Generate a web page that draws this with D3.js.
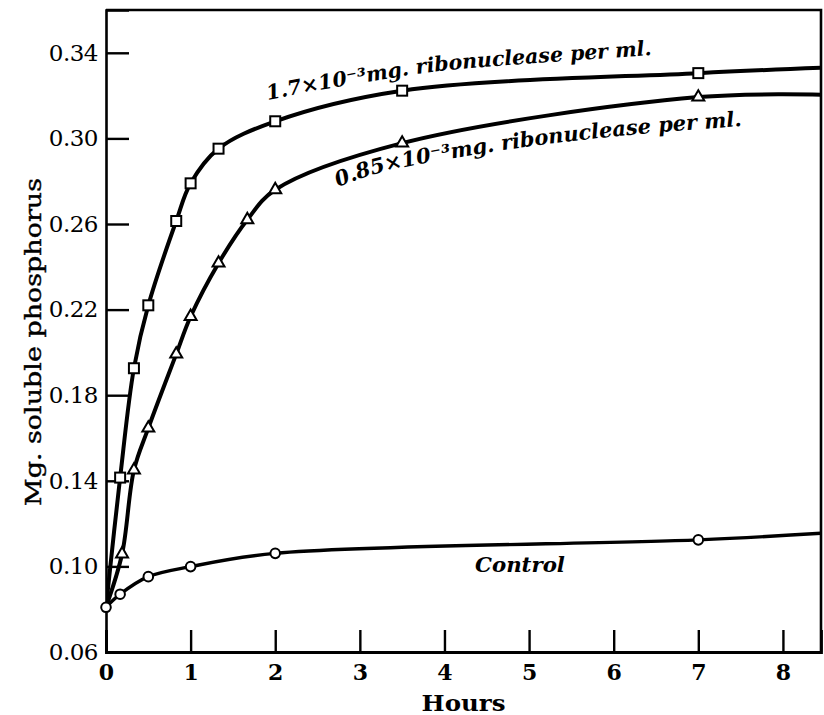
<!DOCTYPE html>
<html>
<head>
<meta charset="utf-8">
<script src="https://cdn.jsdelivr.net/npm/d3@7"></script>
<style>
  html, body { margin: 0; padding: 0; background: #fff; }
  svg { display: block; }
</style>
</head>
<body>
<svg id="chart" width="824" height="715"></svg>
<script>
// ---------- data ----------
const xTickLabels = [0, 1, 2, 3, 4, 5, 6, 7, 8];
const yTickLabels = [0.06, 0.10, 0.14, 0.18, 0.22, 0.26, 0.30, 0.34];

// 1.7e-3 mg ribonuclease per ml  (squares)
const hoursHigh  = [0, 0.167, 0.33, 0.5, 0.83, 1.0, 1.33, 2.0, 3.5, 7.0];
const valuesHigh = [0.081, 0.1415, 0.1926, 0.222, 0.2614, 0.279, 0.2952, 0.308, 0.3223, 0.3305];
const markedHigh = [false, true, true, true, true, true, true, true, true, true];
const endHigh = 0.333;   // curve value where it leaves the frame

// 0.85e-3 mg ribonuclease per ml (triangles)
const hoursLow  = [0, 0.19, 0.33, 0.5, 0.83, 1.0, 1.33, 1.67, 2.0, 3.5, 7.0];
const valuesLow = [0.081, 0.1058, 0.145, 0.1646, 0.1992, 0.2168, 0.2417, 0.262, 0.276, 0.2978, 0.3193];
const markedLow = [false, true, true, true, true, true, true, true, true, true, true];
const endLow = 0.3204;

// Control (circles)
const hoursCtrl  = [0, 0.167, 0.5, 1.0, 2.0, 7.0];
const valuesCtrl = [0.0809, 0.087, 0.0952, 0.0999, 0.1061, 0.1124];
const markedCtrl = [true, true, true, true, true, true];
const endCtrl = 0.1155;

const xMax = 8.45, yMin = 0.06, yMax = 0.36;

const labelHigh = "1.7×10⁻³mg. ribonuclease per ml.";
const labelLow  = "0.85×10⁻³mg. ribonuclease per ml.";
const labelCtrl = "Control";
const xTitle = "Hours";
const yTitle = "Mg. soluble phosphorus";

// ---------- layout ----------
const W = 824, H = 715;
const plotLeft = 106, plotRight = 821, plotTop = 10, plotBottom = 652;
// curved baselines of the curve labels (pixel layout)
const baseHigh = [[268, 100], [320, 90], [385, 79], [450, 70], [550, 62], [652, 55]];
const baseLow  = [[338, 187], [383, 172], [460, 157], [540, 145], [640, 134], [742, 126]];

// ---------- drawing ----------
const svg = d3.select("#chart");
svg.append("rect").attr("width", W).attr("height", H).attr("fill", "#fff");
const defs = svg.append("defs");

const x = d3.scaleLinear().domain([0, xMax]).range([plotLeft, plotRight]);
const y = d3.scaleLinear().domain([yMin, yMax]).range([plotBottom, plotTop]);

const serif = "'DejaVu Serif', 'Liberation Serif', serif";

defs.append("clipPath").attr("id", "plotclip")
  .append("rect").attr("x", x(0)).attr("y", y(yMax)).attr("width", x(xMax) - x(0)).attr("height", y(yMin) - y(yMax));

// frame top & right
svg.append("path")
  .attr("d", `M${x(0)},${y(yMax)} L${x(xMax)},${y(yMax)} L${x(xMax)},${y(yMin)}`)
  .attr("fill", "none").attr("stroke", "#000").attr("stroke-width", 2.6);

// y axis
const yAxis = svg.append("g").attr("transform", `translate(${x(0)},0)`)
  .call(d3.axisLeft(y).tickValues(yTickLabels).tickSize(-23).tickPadding(8).tickFormat(d3.format(".2f")));
yAxis.select(".domain").attr("stroke-width", 2.6);
yAxis.selectAll(".tick line").attr("stroke-width", 2.4);
yAxis.selectAll("text").attr("font-family", serif).attr("font-size", 23).attr("fill", "#000")
  .attr("letter-spacing", -0.5);

// x axis
const xAxis = svg.append("g").attr("transform", `translate(0,${y(yMin)})`)
  .call(d3.axisBottom(x).tickValues(xTickLabels).tickSize(-22).tickPadding(12).tickFormat(d3.format("d")));
xAxis.select(".domain").attr("stroke-width", 2.8);
xAxis.selectAll(".tick line").attr("stroke-width", 2.4);
xAxis.selectAll("text").attr("font-family", serif).attr("font-size", 22).attr("font-weight", "bold").attr("fill", "#000");

// titles
const fitText = (sel, width, tx, ty, angle) => {
  const w = sel.node().getComputedTextLength();
  sel.attr("transform", `translate(${tx},${ty}) rotate(${angle}) scale(${width / w},1)`);
};

const xt = svg.append("text").attr("font-family", serif).attr("font-size", 22).attr("font-weight", "bold")
  .attr("text-anchor", "middle").text(xTitle);
fitText(xt, 84, (x(0) + x(xMax)) / 2, 711, 0);

const yt = svg.append("text").attr("font-family", serif).attr("font-size", 22)
  .attr("text-anchor", "middle").attr("stroke", "#000").attr("stroke-width", 0.4).text(yTitle);
fitText(yt, 328, 41, 342, -90);

// series
const makeSeries = (hours, values, marked, endVal) => {
  const pts = hours.map((h, i) => ({ h, v: values[i], m: marked[i] }));
  return { pts, line: pts.concat([{ h: xMax, v: endVal, m: false }]) };
};
const sHigh = makeSeries(hoursHigh, valuesHigh, markedHigh, endHigh);
const sLow = makeSeries(hoursLow, valuesLow, markedLow, endLow);
const sCtrl = makeSeries(hoursCtrl, valuesCtrl, markedCtrl, endCtrl);

const lineGen = d3.line().x(d => x(d.h)).y(d => y(d.v)).curve(d3.curveCatmullRom.alpha(0.5));
const plot = svg.append("g").attr("clip-path", "url(#plotclip)");

[[sHigh, 4], [sLow, 4], [sCtrl, 3.4]].forEach(([s, w]) => {
  plot.append("path").attr("d", lineGen(s.line)).attr("fill", "none")
    .attr("stroke", "#000").attr("stroke-width", w).attr("stroke-linejoin", "round");
});

// markers
svg.append("g").selectAll("rect").data(sHigh.pts.filter(d => d.m)).join("rect")
  .attr("x", d => x(d.h) - 5).attr("y", d => y(d.v) - 5).attr("width", 10).attr("height", 10)
  .attr("fill", "#fff").attr("stroke", "#000").attr("stroke-width", 2);

const tri = d3.symbol().type(d3.symbolTriangle).size(62);
svg.append("g").selectAll("path").data(sLow.pts.filter(d => d.m)).join("path")
  .attr("d", tri).attr("transform", d => `translate(${x(d.h)},${y(d.v)})`)
  .attr("fill", "#fff").attr("stroke", "#000").attr("stroke-width", 2);

svg.append("g").selectAll("circle").data(sCtrl.pts.filter(d => d.m)).join("circle")
  .attr("cx", d => x(d.h)).attr("cy", d => y(d.v)).attr("r", 4.8)
  .attr("fill", "#fff").attr("stroke", "#000").attr("stroke-width", 2);

// curve labels along curved baselines
const baseLine = d3.line().curve(d3.curveNatural);
const curveLabel = (label, base, id) => {
  const p = defs.append("path").attr("id", id).attr("d", baseLine(base));
  const target = p.node().getTotalLength();
  const t = svg.append("text").attr("font-family", serif).attr("font-style", "italic")
    .attr("font-weight", "bold").attr("fill", "#000");
  t.append("textPath").attr("href", "#" + id).attr("startOffset", 0).text(label);
  let fs = 20;
  t.attr("font-size", fs);
  for (let k = 0; k < 3; k++) {
    const len = t.node().getComputedTextLength();
    fs = fs * target / len;
    t.attr("font-size", fs);
  }
};
curveLabel(labelHigh, baseHigh, "baseHigh");
curveLabel(labelLow, baseLow, "baseLow");

const ct = svg.append("text").attr("font-family", serif).attr("font-style", "italic")
  .attr("font-weight", "bold").attr("font-size", 20).text(labelCtrl);
fitText(ct, 90, 475, 572, 0);
</script>
</body>
</html>
